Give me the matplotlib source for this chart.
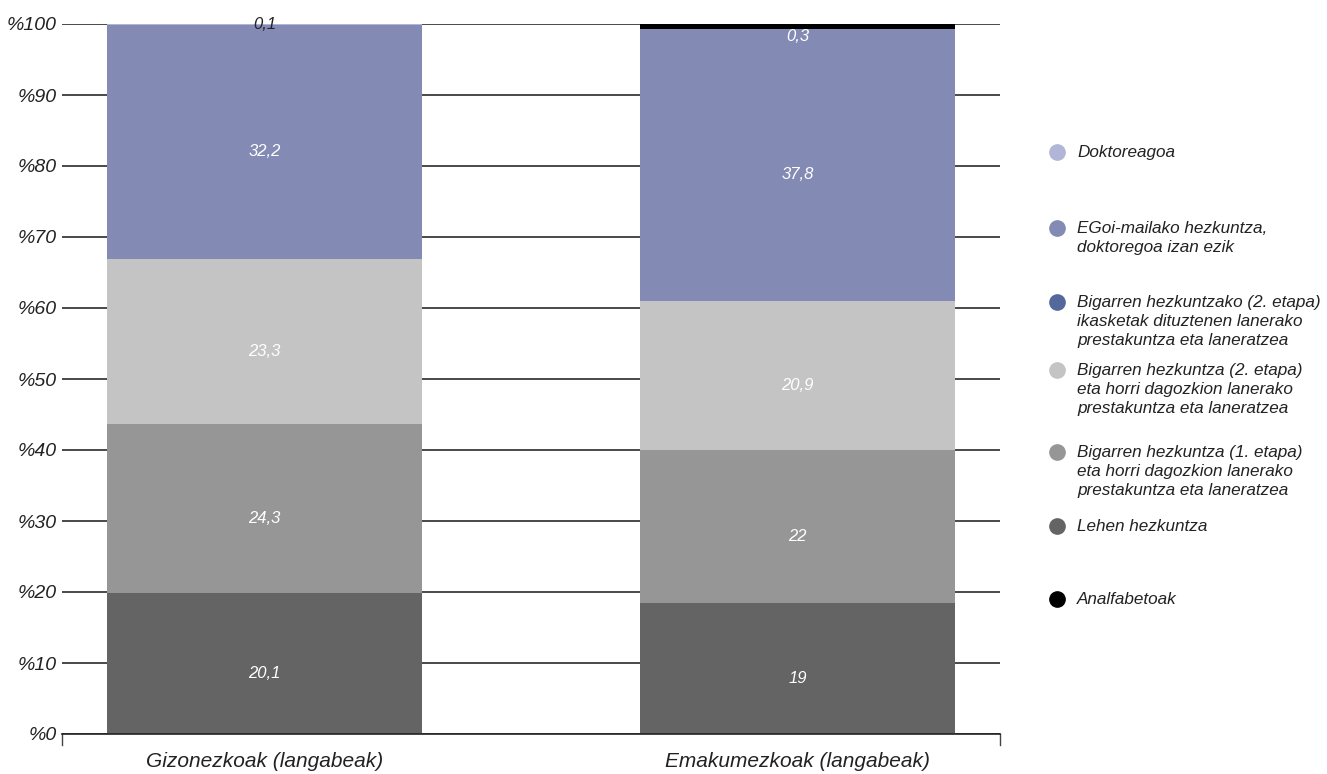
import matplotlib
matplotlib.use("Agg")
import numpy as np
import matplotlib.pyplot as plt
from matplotlib.lines import Line2D
from matplotlib.transforms import offset_copy

plt.rcParams['font.family'] = ['Liberation Sans', 'DejaVu Sans']
plt.rcParams['font.style'] = 'italic'

# categories and series (bottom to top of stack)
categories = ['Gizonezkoak (langabeak)', 'Emakumezkoak (langabeak)']
series_names = [
    'Lehen hezkuntza',
    'Bigarren hezkuntza (1. etapa)\neta horri dagozkion lanerako\nprestakuntza eta laneratzea',
    'Bigarren hezkuntza (2. etapa)\neta horri dagozkion lanerako\nprestakuntza eta laneratzea',
    'Bigarren hezkuntzako (2. etapa)\nikasketak dituztenen lanerako\nprestakuntza eta laneratzea',
    'EGoi-mailako hezkuntza,\ndoktoregoa izan ezik',
    'Doktoreagoa',
    'Analfabetoak',
]
# bar heights as drawn
lehen = [19.9, 18.5]
bigarren1 = [23.7, 21.5]
bigarren2 = [23.3, 21.0]
bigarren_lan = [0.0, 0.0]
egoi = [33.0, 38.3]
doktore = [0.1, 0.0]
analfabeto = [0.0, 0.7]
series = [lehen, bigarren1, bigarren2, bigarren_lan, egoi, doktore, analfabeto]

# value labels printed on the segments
lehen_lbl = ['20,1', '19']
bigarren1_lbl = ['24,3', '22']
bigarren2_lbl = ['23,3', '20,9']
bigarren_lan_lbl = ['', '']
egoi_lbl = ['32,2', '37,8']
doktore_lbl = ['0,1', '']
analfabeto_lbl = ['', '0,3']
labels = [lehen_lbl, bigarren1_lbl, bigarren2_lbl, bigarren_lan_lbl, egoi_lbl, doktore_lbl, analfabeto_lbl]

colors = ['#646464', '#969696', '#c4c4c4', '#55689c', '#838ab3', '#b1b5d6', '#000000']
label_colors = ['white', 'white', 'white', 'white', 'white', '#222222', 'white']

# legend order, top to bottom
legend_order = [5, 4, 3, 2, 1, 0, 6]
legend_y = [152, 228, 302, 370, 452, 526, 599]  # pixel rows from top

fig = plt.figure(figsize=(13.27, 7.74), dpi=100)
W, H = 1327, 774
ax = fig.add_axes([62 / W, 1 - 734 / H, (1000 - 62) / W, (734 - 24) / H])

x = np.arange(len(categories))
bottom = np.zeros(len(categories))
for vals, lbls, col, lc in zip(series, labels, colors, label_colors):
    vals = np.array(vals)
    ax.bar(x, vals, bottom=bottom, width=0.59, color=col, zorder=2, linewidth=0)
    for xi, v, b, t in zip(x, vals, bottom, lbls):
        if t:
            dy = 0 if v < 0.5 else -10
            tr = offset_copy(ax.transData, fig=fig, x=0, y=dy, units='dots')
            ax.text(xi, b + v / 2, t, ha='center', va='center', transform=tr,
                    color=lc, fontsize=12, zorder=4)
    bottom += vals

ax.set_xlim(-0.38, 1.38)
ax.set_ylim(0, 100)
ax.set_yticks(np.arange(0, 101, 10))
ax.set_yticklabels([f'%{v}' for v in range(0, 101, 10)], fontsize=14, color='#222222')
ax.yaxis.grid(True, color='#2a2a2a', linewidth=1.2, zorder=1)
ax.set_axisbelow(True)
ax.tick_params(axis='y', length=0, pad=4)
ax.set_xticks(x)
ax.set_xticklabels(categories, fontsize=15, color='#222222')
ax.tick_params(axis='x', length=0, pad=13)
for s in ['top', 'right', 'left']:
    ax.spines[s].set_visible(False)
ax.spines['bottom'].set_color('#222222')
ax.spines['bottom'].set_linewidth(1.2)
# small ticks at both ends of the x axis
for xe in (0, 1):
    ax.plot([xe, xe], [0, -0.015], transform=ax.transAxes, color='#444444', lw=1,
            clip_on=False)

for idx, py in zip(legend_order, legend_y):
    fy = 1 - py / H
    fig.add_artist(Line2D([1057 / W], [fy], marker='o', markersize=11, color=colors[idx],
                          linestyle='none', transform=fig.transFigure))
    fig.text(1077 / W, fy + 7 / H, series_names[idx], ha='left', va='top', fontsize=12.3,
             color='#222222', linespacing=1.32)

fig.savefig('out.png', dpi=100)
